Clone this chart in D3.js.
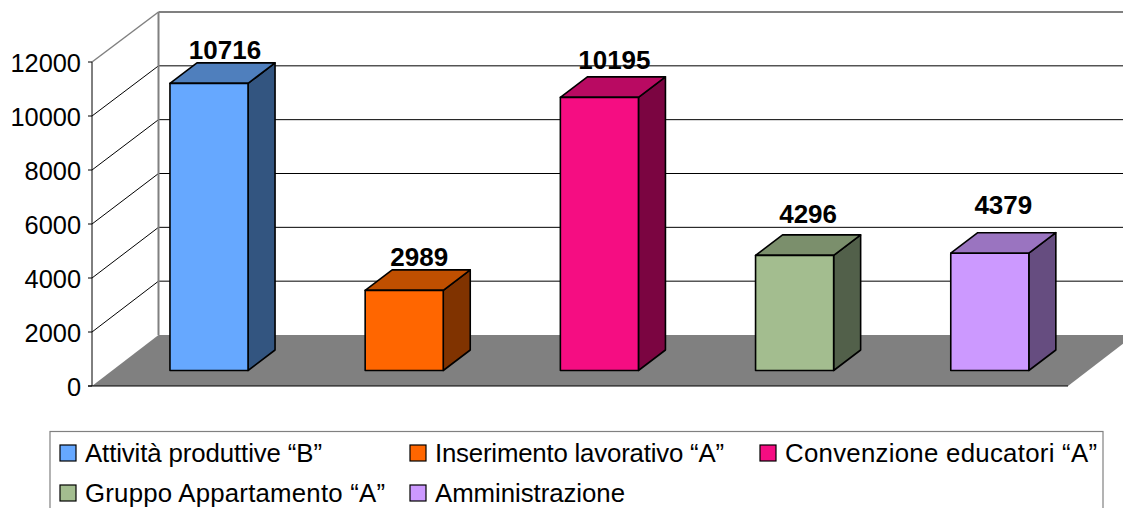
<!DOCTYPE html>
<html><head><meta charset="utf-8">
<script src="https://cdn.jsdelivr.net/npm/d3@7"></script>
<style>html,body{margin:0;padding:0;background:#fff;overflow:hidden}svg{display:block}text{font-family:"Liberation Sans",Arial,sans-serif;fill:#000}</style>
</head><body><script>
const categories=["Attività produttive “B”","Inserimento lavorativo “A”","Convenzione educatori “A”","Gruppo Appartamento “A”","Amministrazione"];
const values=[10716,2989,10195,4296,4379];
const colors=["#66a8ff","#ff6600","#f50d82","#a3bd8f","#cc99ff"];
const topColors=["#4f7fbd","#c04f00","#b90a62","#7b8f6c","#9a74c0"];
const sideColors=["#335580","#803300","#7b0541","#52604a","#664d80"];
const ticks=[0,2000,4000,6000,8000,10000,12000];
const labelGaps=[4,4,8,12,19];
const labelShifts=[2.5,1.5,1.5,0,0];
const legendWidths=[237,289,312,300,190];

const W=1123,H=508;
const svg=d3.select("body").append("svg").attr("width",W).attr("height",H);
const y=d3.scaleLinear().domain([0,12000]).range([386,62]);
const barY=d3.scaleLinear().domain([0,12000]).range([370.5,49]);
const x=d3.scaleBand().domain(categories).range([92,1068]).paddingInner(0.6).paddingOuter(0.3);
const wallDx=66.5,wallDy=51,barDx=27,barDy=20.5,barShift=19.4;
const pts=a=>a.map(p=>p.join(",")).join(" ");

// floor
svg.append("polygon").attr("fill","#808080")
 .attr("points",pts([[92,y(0)],[92+wallDx,y(0)-wallDy],[1068+wallDx,y(0)-wallDy],[1068,y(0)]]));

// gridlines
ticks.forEach(t=>{
  const yy=y(t),isTop=t===12000,isZero=t===0;
  const col=isTop?"#808080":"#000";
  const sw=isTop?2:1;
  const backY=yy-wallDy+(t/12000);
  if(!isZero){
    svg.append("polyline").attr("fill","none").attr("stroke",col).attr("stroke-width",isTop?1.5:1)
     .attr("points",pts([[92,yy],[92+wallDx,backY]]));
    svg.append("line").attr("x1",92+wallDx).attr("x2",W).attr("y1",backY).attr("y2",backY).attr("stroke",col).attr("stroke-width",sw);
  }
  svg.append("line").attr("x1",88).attr("x2",92).attr("y1",yy).attr("y2",yy).attr("stroke","#000").attr("stroke-width",1);
  svg.append("text").attr("x",81).attr("y",yy+10).attr("text-anchor","end").attr("font-size",25.4).text(t);
});
// back wall left edge
svg.append("line").attr("x1",92+wallDx).attr("x2",92+wallDx).attr("y1",y(12000)-wallDy+1).attr("y2",y(0)-wallDy).attr("stroke","#808080").attr("stroke-width",2);
// axis lines
svg.append("line").attr("x1",92).attr("x2",92).attr("y1",y(12000)).attr("y2",y(0)).attr("stroke","#000").attr("stroke-width",1);
svg.append("line").attr("x1",88).attr("x2",1068).attr("y1",y(0)).attr("y2",y(0)).attr("stroke","#000").attr("stroke-width",1);

// bars
categories.forEach((c,i)=>{
  const x0=x(c)+barShift,x1=x0+x.bandwidth(),yb=barY(0),yt=barY(values[i]);
  const g=svg.append("g").attr("stroke","#000").attr("stroke-width",1.6).attr("stroke-linejoin","round");
  g.append("polygon").attr("fill",sideColors[i]).attr("points",pts([[x1,yt],[x1+barDx,yt-barDy],[x1+barDx,yb-barDy],[x1,yb]]));
  g.append("polygon").attr("fill",topColors[i]).attr("points",pts([[x0,yt],[x0+barDx,yt-barDy],[x1+barDx,yt-barDy],[x1,yt]]));
  g.append("rect").attr("fill",colors[i]).attr("x",x0).attr("y",yt).attr("width",x.bandwidth()).attr("height",yb-yt);
  svg.append("text").attr("x",(x0+x1+barDx)/2+labelShifts[i]).attr("y",yt-barDy-labelGaps[i]).attr("text-anchor","middle")
    .attr("font-size",26).attr("font-weight","bold").text(values[i]);
});

// legend
svg.append("rect").attr("x",50).attr("y",431.5).attr("width",1053).attr("height",90).attr("fill","#fff").attr("stroke","#808080").attr("stroke-width",1.2);
const legX=[60,410,760,60,410],legY=[454,454,454,494,494];
categories.forEach((c,i)=>{
  svg.append("rect").attr("x",legX[i]).attr("y",legY[i]-9).attr("width",16).attr("height",16).attr("fill",colors[i]).attr("stroke","#000").attr("stroke-width",1.2);
  svg.append("text").attr("x",legX[i]+25).attr("y",legY[i]+8).attr("font-size",25.8)
    .attr("textLength",legendWidths[i]).attr("lengthAdjust","spacing").text(c);
});
</script></body></html>
